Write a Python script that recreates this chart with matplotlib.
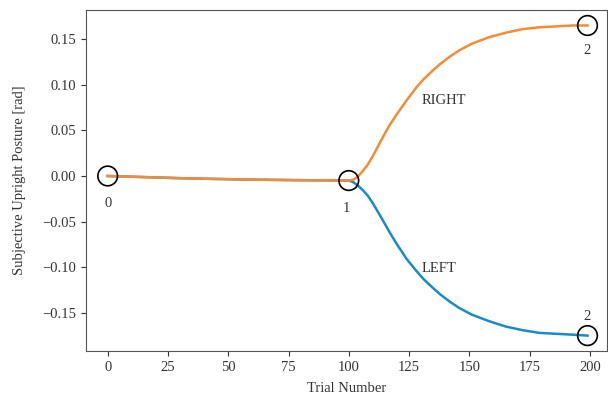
import matplotlib
matplotlib.use("Agg")
import matplotlib.pyplot as plt

# --- данные ---
trials_base = [0, 10, 20, 30, 40, 50, 60, 70, 80, 90, 100]
posture_base = [0.0, -0.0008, -0.0016, -0.0024, -0.003, -0.0035, -0.004, -0.0043, -0.0046, -0.0048, -0.005]

trials_adapt = [100, 102, 104, 106, 108, 110, 112, 114, 117, 120, 124, 128, 131, 135, 138, 142, 146, 151,
                158, 165, 172, 179, 186, 193, 199]
posture_right = [-0.005, -0.004, 0.0, 0.006, 0.013, 0.022, 0.032, 0.042, 0.056, 0.068, 0.083, 0.097, 0.106,
                 0.116, 0.123, 0.131, 0.138, 0.145, 0.152, 0.157, 0.161, 0.163, 0.164, 0.165, 0.165]
posture_left = [-0.005, -0.007, -0.011, -0.016, -0.022, -0.030, -0.039, -0.048, -0.062, -0.075, -0.091, -0.104,
                -0.113, -0.123, -0.130, -0.138, -0.145, -0.152, -0.159, -0.165, -0.169, -0.172, -0.173, -0.174,
                -0.175]

marker_x = [0, 100, 199, 199]
marker_y = [0.0, -0.005, 0.165, -0.175]
marker_labels = ["0", "1", "2", "2"]
label_offsets = [(0, -0.03), (-1, -0.031), (0, -0.027), (0, 0.021)]

plt.rcParams['font.family'] = ['Liberation Serif', 'DejaVu Serif']
plt.rcParams['font.size'] = 10.5

blue = "#1a8bca"
orange = "#f48b35"
grey = "#333333"

fig = plt.figure(figsize=(6.08, 3.99), dpi=100)
ax = fig.add_axes([0.1414, 0.120, 0.8566, 0.855])

ax.plot(trials_base + trials_adapt[1:], posture_base + posture_left[1:], color=blue, lw=1.8)
ax.plot(trials_base + trials_adapt[1:], posture_base + posture_right[1:], color=orange, lw=1.8)

ax.scatter(marker_x, marker_y, s=200, facecolors="none", edgecolors="black", linewidths=1.2, zorder=3)
for x, y, lab, (dx, dy) in zip(marker_x, marker_y, marker_labels, label_offsets):
    ax.text(x + dx, y + dy, lab, ha="center", va="center", color=grey)

ax.text(130, 0.083, "RIGHT", ha="left", va="center", color=grey)
ax.text(130, -0.101, "LEFT", ha="left", va="center", color=grey)

ax.set_xlim(-9, 207)
ax.set_ylim(-0.192, 0.182)
ax.set_xticks([0, 25, 50, 75, 100, 125, 150, 175, 200])
ax.set_yticks([-0.15, -0.10, -0.05, 0.0, 0.05, 0.10, 0.15])
ax.set_yticklabels(["\u22120.15", "\u22120.10", "\u22120.05", "0.00", "0.05", "0.10", "0.15"])
ax.set_xlabel("Trial Number", color=grey, labelpad=6)
ax.set_ylabel("Subjective Upright Posture [rad]", color=grey, labelpad=12)
ax.tick_params(colors=grey, labelcolor=grey)
for sp in ax.spines.values():
    sp.set_color("#555555")

fig.savefig("out.png", dpi=100)
